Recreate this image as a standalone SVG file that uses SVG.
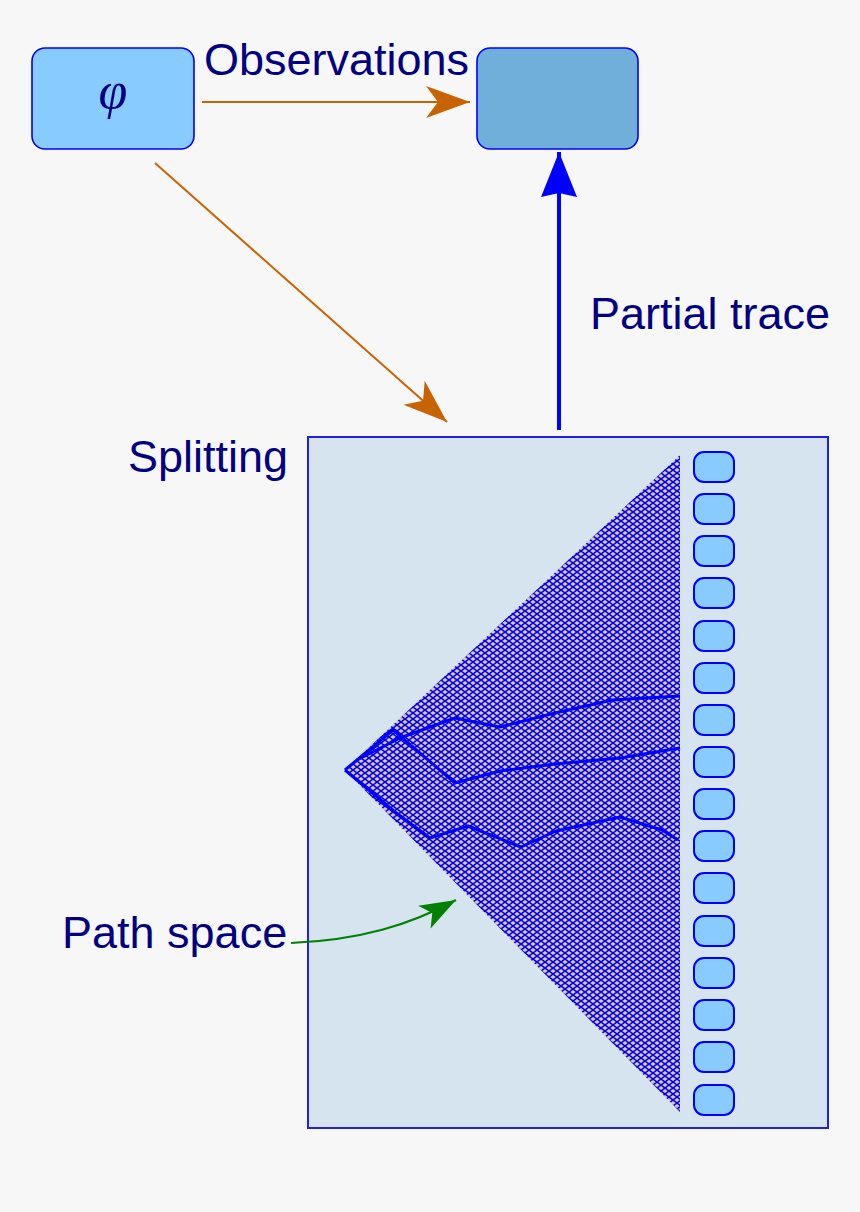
<svg xmlns="http://www.w3.org/2000/svg" width="860" height="1212" viewBox="0 0 860 1212">
<defs>
<style>
.lbl{font-family:"Liberation Sans",Arial,sans-serif;font-size:45px;fill:#000080}
.node{fill:#88ccff;stroke:#0000ff;stroke-width:1.6}
.cell{fill:#88ccff;stroke:#0000ff;stroke-width:2}
.path{fill:none;stroke:#0000ff;stroke-width:3;stroke-linejoin:round}
</style>
<pattern id="hatch" patternUnits="userSpaceOnUse" x="345" y="770" width="8" height="6">
<rect width="8" height="6" fill="#dcc9a3"/>
<path d="M-1,-0.75 L9,6.75 M-1,6.75 L9,-0.75" stroke="#0000ff" stroke-width="1.5"/>
</pattern>
<marker id="orange" markerUnits="userSpaceOnUse" orient="auto" refX="0" refY="0" markerWidth="1" markerHeight="1" overflow="visible">
<path d="M0,0 L-44,-16 L-32,0 L-44,16 Z" fill="#c86400"/>
</marker>
<marker id="green" markerUnits="userSpaceOnUse" orient="auto" refX="0" refY="0" markerWidth="1" markerHeight="1" overflow="visible">
<path d="M0,0 L-36,-13 L-27,0 L-36,13 Z" fill="#008000"/>
</marker>
<marker id="blue" markerUnits="userSpaceOnUse" orient="auto" refX="0" refY="0" markerWidth="1" markerHeight="1" overflow="visible">
<path d="M0,0 L-45,-18 L-41,0 L-45,18 Z" fill="#0000ff"/>
</marker>
</defs>
<rect width="860" height="1212" fill="#f7f7f7"/>

<g id="phi-node">
<rect class="node" x="32" y="48" width="162" height="101" rx="13"/>
<text x="113" y="108" text-anchor="middle" font-family="Liberation Serif,serif" font-style="italic" font-size="52" fill="#000080">φ</text>
</g>

<g id="result-node">
<rect x="477" y="48" width="161" height="101" rx="13" fill="#70afd9" stroke="#0000ff" stroke-width="1.6"/>
</g>

<g id="splitting-node">
<rect x="308" y="437" width="520" height="691" fill="#d6e4f0" stroke="#2020e0" stroke-width="2"/>
<polygon points="345,770 680,455 680,1112" fill="url(#hatch)"/>
<path class="path" d="M345,770 L393,730 L455,783 L500,771 L555,764 L620,758 L680,748"/>
<path class="path" d="M357,760 L400,738 L455,718 L500,727 L555,713 L612,700 L680,696"/>
<path class="path" d="M345,770 L395,812 L430,838 L468,826 L521,847 L556,831 L620,817 L662,830 L678,840"/>
<g id="cells">
<rect class="cell" x="694" y="452" width="40" height="30" rx="10"/>
<rect class="cell" x="694" y="494" width="40" height="30" rx="10"/>
<rect class="cell" x="694" y="536" width="40" height="30" rx="10"/>
<rect class="cell" x="694" y="578" width="40" height="30" rx="10"/>
<rect class="cell" x="694" y="621" width="40" height="30" rx="10"/>
<rect class="cell" x="694" y="663" width="40" height="30" rx="10"/>
<rect class="cell" x="694" y="705" width="40" height="30" rx="10"/>
<rect class="cell" x="694" y="747" width="40" height="30" rx="10"/>
<rect class="cell" x="694" y="789" width="40" height="30" rx="10"/>
<rect class="cell" x="694" y="831" width="40" height="30" rx="10"/>
<rect class="cell" x="694" y="873" width="40" height="30" rx="10"/>
<rect class="cell" x="694" y="916" width="40" height="30" rx="10"/>
<rect class="cell" x="694" y="958" width="40" height="30" rx="10"/>
<rect class="cell" x="694" y="1000" width="40" height="30" rx="10"/>
<rect class="cell" x="694" y="1042" width="40" height="30" rx="10"/>
<rect class="cell" x="694" y="1085" width="40" height="30" rx="10"/>
</g>
</g>

<g id="connectors">
<line x1="202" y1="102" x2="470" y2="102" stroke="#c86400" stroke-width="2" marker-end="url(#orange)"/>
<line x1="155" y1="163" x2="447" y2="422" stroke="#c86400" stroke-width="2" marker-end="url(#orange)"/>
<line x1="559" y1="430" x2="559" y2="152" stroke="#0000ff" stroke-width="4" marker-end="url(#blue)"/>
<path d="M291,943 C360,940 410,925 456,900" fill="none" stroke="#008000" stroke-width="2" marker-end="url(#green)"/>
</g>

<g id="labels">
<text class="lbl" x="204" y="75">Observations</text>
<text class="lbl" x="590" y="329">Partial trace</text>
<text class="lbl" x="128" y="472">Splitting</text>
<text class="lbl" x="62" y="948">Path space</text>
</g>
</svg>
